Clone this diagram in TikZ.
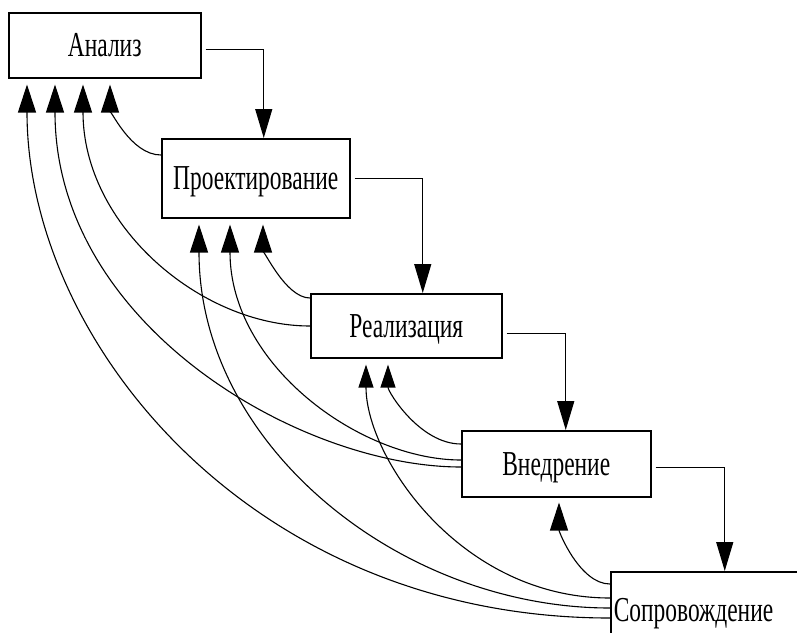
\documentclass[tikz,border=0pt]{standalone}
\usepackage{fontspec}
\newfontfamily\diafont[FakeStretch=0.67]{Liberation Serif}
\usetikzlibrary{arrows.meta,calc}
\begin{document}
\begin{tikzpicture}[x=1pt,y=-1pt,
  box/.style={draw, line width=1.5pt, rectangle, anchor=north west, inner sep=0pt,
    font=\diafont\fontsize{35}{38}\selectfont, text height=23pt, text depth=0pt},
  fwd/.style={line width=1.2pt, -{Triangle[length=29pt,width=17pt]}},
  back/.style={line width=1.1pt, -{Triangle[length=28pt,width=18pt]}},
  backs/.style={line width=1.1pt, -{Triangle[length=23pt,width=15pt]}}]
\useasboundingbox (0,0) rectangle (797,632);
\fill[white] (0,0) rectangle (797,632);
\clip (0,0) rectangle (797,632);
% boxes
\node[box, minimum width=192pt, minimum height=65pt] (ana) at (8,12) {Анализ};
\node[box, minimum width=188pt, minimum height=79pt] (pro) at (161,138) {Проектирование};
\node[box, minimum width=191pt, minimum height=64pt] (real) at (310,293) {Реализация};
\node[box, minimum width=189pt, minimum height=66pt] (vned) at (461,430) {Внедрение};
\node[box, text width=224pt, align=left, inner xsep=3pt, minimum height=100pt, text depth=23pt] (sop) at (610,571) {Сопровождение};
% forward flow
\draw[fwd] ($(ana.east)+(4,4)$) -| ($(pro.north)+(8,0)$);
\draw[fwd] ($(pro.east)+(4,0)$) -| ($(real.north)+(16.5,0)$);
\draw[fwd] ($(real.east)+(4,8)$) -| ($(vned.north)+(9.5,0)$);
\draw[fwd] ($(vned.east)+(4,4)$) -| ($(sop.north)+(-1,0)$);
% back to Analysis
\draw[back] (sop.west |- 0,618) .. controls (250,618) and (27,340) .. ($(ana.south -| 27,0)+(0,6)$);
\draw[back] (vned.west |- 0,467) .. controls (300,467) and (55,325) .. ($(ana.south -| 55,0)+(0,6)$);
\draw[back] (real.west |- 0,326) .. controls (200,326) and (83,225) .. ($(ana.south -| 83,0)+(0,6)$);
\draw[back] (pro.west |- 0,155) .. controls (130,155) and (110,107) .. ($(ana.south -| 110,0)+(0,6)$);
% back to Design
\draw[back] (sop.west |- 0,608) .. controls (400,608) and (199,445) .. ($(pro.south -| 199,0)+(0,6)$);
\draw[back] (vned.west |- 0,460) .. controls (360,460) and (230,365) .. ($(pro.south -| 230,0)+(0,6)$);
\draw[back] (real.west |- 0,298) .. controls (285,298) and (263,247) .. ($(pro.south -| 263,0)+(0,6)$);
% back to Implementation
\draw[backs] (sop.west |- 0,598) .. controls (460,598) and (366,457) .. ($(real.south -| 366,0)+(0,6)$);
\draw[backs] (vned.west |- 0,444) .. controls (420,444) and (388,392) .. ($(real.south -| 388,0)+(0,6)$);
% back to Deployment
\draw[back] (sop.west |- 0,584) .. controls (580,584) and (559,532) .. ($(vned.south -| 559,0)+(0,5)$);
\end{tikzpicture}
\end{document}
